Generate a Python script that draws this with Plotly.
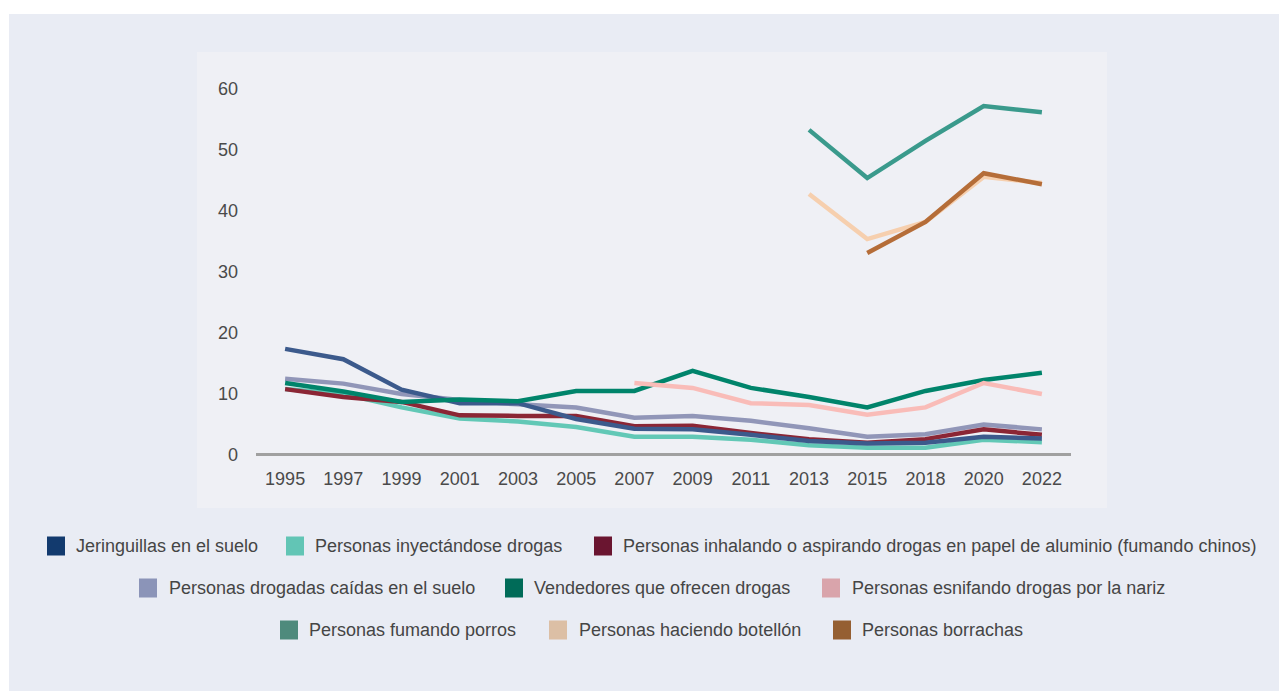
import plotly.graph_objects as go

years = ["1995", "1997", "1999", "2001", "2003", "2005", "2007", "2009", "2011", "2013", "2015", "2018", "2020", "2022"]

jeringuillas = [17.4, 15.7, 10.7, 8.5, 8.5, 5.9, 4.3, 4.2, 3.3, 2.3, 1.9, 2.0, 3.0, 2.7]
inyectandose = [10.8, 10.0, 7.8, 6.0, 5.5, 4.6, 3.0, 3.0, 2.5, 1.6, 1.2, 1.2, 2.5, 2.1]
inhalando = [10.8, 9.5, 8.7, 6.5, 6.4, 6.4, 4.7, 4.8, 3.6, 2.6, 2.0, 2.6, 4.2, 3.3]
drogadas = [12.5, 11.7, 10.0, 9.0, 8.3, 7.8, 6.1, 6.4, 5.6, 4.4, 3.0, 3.4, 5.0, 4.2]
vendedores = [11.8, 10.4, 8.7, 9.1, 8.8, 10.5, 10.5, 13.8, 11.0, 9.5, 7.8, 10.5, 12.3, 13.5]
esnifando = [None, None, None, None, None, None, 11.8, 11.0, 8.5, 8.2, 6.6, 7.8, 11.8, 10.0]
porros = [None, None, None, None, None, None, None, None, None, 53.3, 45.4, 51.5, 57.2, 56.2]
botellon = [None, None, None, None, None, None, None, None, None, 42.8, 35.4, 38.2, 45.6, 44.6]
borrachas = [None, None, None, None, None, None, None, None, None, None, 33.1, 38.2, 46.2, 44.4]

y_ticks = [0, 10, 20, 30, 40, 50, 60]

series = [
    ("Jeringuillas en el suelo", jeringuillas, "#3c5a8c", "#123a6e"),
    ("Personas inyectándose drogas", inyectandose, "#62c8b6", "#62c5b5"),
    ("Personas inhalando o aspirando drogas en papel de aluminio (fumando chinos)", inhalando, "#8b2635", "#6a1530"),
    ("Personas drogadas caídas en el suelo", drogadas, "#9196b8", "#8b94b8"),
    ("Vendedores que ofrecen drogas", vendedores, "#00846b", "#006b58"),
    ("Personas esnifando drogas por la nariz", esnifando, "#f9bcb8", "#d9a4ab"),
    ("Personas fumando porros", porros, "#3a9a8c", "#4e8a7c"),
    ("Personas haciendo botellón", botellon, "#f6cfae", "#dcbfa5"),
    ("Personas borrachas", borrachas, "#b56d38", "#955f32"),
]
draw_order = [3, 1, 2, 0, 4, 5, 6, 7, 8]

W, H = 1279, 691
L, R, T, B = 256, 208, 80, 229
PW, PH = W - L - R, H - T - B


def px2x(px):
    return (px - L) / PW


def py2y(py):
    return (H - B - py) / PH


fig = go.Figure()
for i in draw_order:
    name, vals, lc, _ = series[i]
    fig.add_trace(go.Scatter(x=years, y=vals, mode="lines", name=name,
                             line=dict(color=lc, width=4.5), showlegend=False,
                             connectgaps=False))

shapes = [
    dict(type="rect", xref="paper", yref="paper", x0=px2x(9), x1=px2x(W + 5), y0=py2y(14), y1=py2y(H + 5),
         fillcolor="#e9ecf4", line=dict(width=0), layer="below"),
    dict(type="rect", xref="paper", yref="paper", x0=px2x(197), x1=px2x(1107), y0=py2y(52), y1=py2y(508),
         fillcolor="#eff0f5", line=dict(width=0), layer="below"),
]
annotations = []

legend_layout = [
    (0, 47, 76, 546), (1, 286, 315, 546), (2, 594, 623, 546),
    (3, 139, 169, 588), (4, 505, 534, 588), (5, 822, 852, 588),
    (6, 280, 309, 630), (7, 549, 579, 630), (8, 833, 862, 630),
]
for idx, sx, tx, cy in legend_layout:
    name, _, _, sc = series[idx]
    shapes.append(dict(type="rect", xref="paper", yref="paper",
                       x0=px2x(sx), x1=px2x(sx + 18), y0=py2y(cy - 9.5), y1=py2y(cy + 9.5),
                       fillcolor=sc, line=dict(width=0), layer="above"))
    annotations.append(dict(xref="paper", yref="paper", x=px2x(tx - 2), y=py2y(cy), text=name,
                            showarrow=False, xanchor="left", yanchor="middle",
                            font=dict(family="Liberation Sans, Arial, sans-serif", size=18, color="#454545")))

fig.update_layout(
    width=W, height=H,
    margin=dict(l=L, r=R, t=T, b=B, pad=0),
    paper_bgcolor="white",
    plot_bgcolor="rgba(0,0,0,0)",
    font=dict(family="Liberation Sans, Arial, sans-serif", size=18, color="#4a4a4a"),
    shapes=shapes,
    annotations=annotations,
    showlegend=False,
    xaxis=dict(type="category", range=[-0.5, 13.5], showgrid=False, zeroline=False, showline=False,
               ticks="", ticklabelstandoff=4, tickfont=dict(size=18, color="#4a4a4a")),
    yaxis=dict(range=[-1.15, 61.48], tickvals=y_ticks, showgrid=False, zeroline=True,
               zerolinecolor="#a0a0a0", zerolinewidth=2.5, showline=False, ticks="",
               ticklabelstandoff=17, tickfont=dict(size=18, color="#4a4a4a")),
)

fig.write_html("out.html", config={"displayModeBar": False},
               post_script="document.body.style.margin='0';document.body.style.overflow='hidden';")
